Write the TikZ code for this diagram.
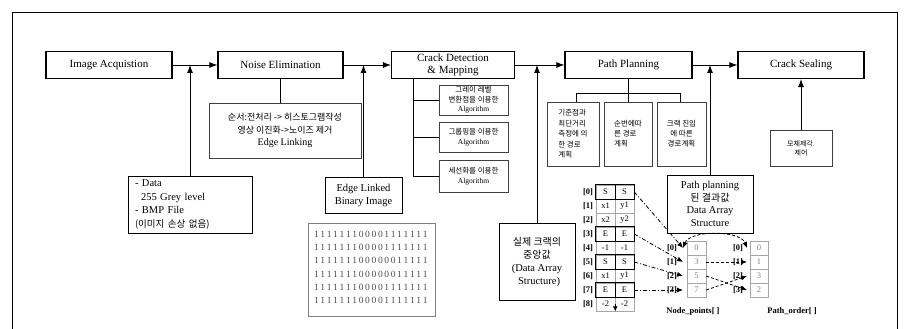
\documentclass[tikz,border=0pt]{standalone}
\usepackage{fontspec}
\setmainfont{Liberation Serif}
\newfontfamily\kr{Noto Sans CJK KR}
\usetikzlibrary{arrows.meta,calc}
\def\spacedigits#1{\spacedigitsi#1\relax}
\def\spacedigitsi#1{\ifx#1\relax\else\makebox[6.4pt]{#1}\expandafter\spacedigitsi\fi}
\begin{document}
\begin{tikzpicture}[x=1pt,y=-1pt,
  mainbox/.style={draw,line width=1.1pt,fill=white,minimum width=#1,minimum height=27,inner sep=1pt,align=center,font=\fontsize{11}{12.5}\selectfont},
  infobox/.style={draw,line width=1pt,fill=white,inner sep=1pt,align=center},
  subbox/.style={draw=black!75,line width=0.5pt,inner sep=1pt,align=center,font=\fontsize{7.5}{9.5}\selectfont},
  arr/.style={-{Latex[length=8,width=6]},line width=0.9pt},
  ln/.style={line width=0.9pt},
  cell/.style={draw=gray!70,line width=0.5pt,minimum width=19,minimum height=14,inner sep=0pt,font=\fontsize{8.5}{9}\selectfont},
  lab/.style={inner sep=0pt,font=\fontsize{8.5}{9}\selectfont\bfseries},
  dashdot/.style={dash pattern=on 4pt off 2pt on 1pt off 2pt,line width=0.8pt,-{Latex[length=6,width=5]}},
  dsh/.style={dash pattern=on 3pt off 2pt,line width=0.8pt,-{Latex[length=6,width=5]}},
  binline/.style={anchor=west,inner sep=0pt,text=black!70,font=\fontsize{9.5}{10}\selectfont}
]
\useasboundingbox (0,0) rectangle (913,329);
% outer frame
\draw[line width=0.9pt] (12,329) -- (12,12) -- (897,12) -- (897,329);

% main chain
\node[mainbox=126] (ia) at (109,65) {Image Acquistion};
\node[mainbox=125] (ne) at (280.5,65) {Noise Elimination};
\node[mainbox=123] (cd) at (453,65) {Crack Detection\\\& Mapping};
\node[mainbox=127] (pp) at (628.5,65) {Path Planning};
\node[mainbox=126] (cs) at (801,65) {Crack Sealing};
\draw[arr] (ia) -- (ne);
\draw[arr] (ne) -- (cd);
\draw[arr] (cd) -- (pp);
\draw[arr] (pp) -- (cs);

% inputs from below
\node[infobox,text width=110,inner xsep=7pt,minimum height=57,align=left,font=\fontsize{10.5}{13.5}\selectfont] (data) at (190,204.5)
  {- Data\\\hspace*{6pt}255 Grey level\\- BMP File\\{\kr\fontsize{9.5}{13.5}\selectfont (이미지 손상 없음)}};
\draw[arr] (data.north) -- (data.north |- ia.east);

\node[infobox,minimum width=77,minimum height=36,font=\fontsize{10.5}{13}\selectfont] (edge) at (363.5,195) {Edge Linked\\Binary Image};
\draw[arr] (edge.north) -- (edge.north |- ne.east);

\node[draw=black!50,line width=0.6pt,minimum width=127,minimum height=93,inner sep=0pt] (bin) at (371.5,269.5) {};
\foreach \k/\s in {0/111111100001111111,1/111111100001111111,2/111111100000011111,3/111111100000011111,4/111111100001111111,5/111111100001111111}
  \node[binline] (b\k) at (313,{234+13.3*\k}) {\expandafter\spacedigits\expandafter{\s}};

\node[infobox,minimum width=76,minimum height=77,font=\fontsize{10.5}{13}\selectfont] (real) at (537,261.5)
  {{\kr\fontsize{10}{13}\selectfont 실제 크랙의}\\{\kr\fontsize{10}{13}\selectfont 중앙값}\\(Data Array\\\hspace*{4pt}Structure)};
\draw[arr] (real.north) -- (real.north |- cd.east);

% noise sub box
\node[subbox,minimum width=152,minimum height=55,font=\fontsize{10}{12.5}\selectfont] (nsub) at (285,130.5)
  {{\kr\fontsize{9}{12.5}\selectfont 순서:전처리 -> 히스토그램작성}\\{\kr\fontsize{9}{12.5}\selectfont 영상 이진화->노이즈 제거}\\Edge Linking};
\draw[ln] (ne.south) -- (ne.south |- nsub.north);

% crack detection sub boxes
\node[subbox,minimum width=69,minimum height=30] (cs1) at (473.5,100) {{\kr 그레이 레벨}\\{\kr 변환점을 이용한}\\Algorithm};
\node[subbox,minimum width=69,minimum height=30] (cs2) at (473.5,137) {{\kr 그룹핑을 이용한}\\Algorithm};
\node[subbox,minimum width=69,minimum height=32] (cs3) at (473.5,176) {{\kr 세선화를 이용한}\\Algorithm};
\coordinate (cdt) at (413,0);
\draw[ln] (cdt |- cd.south) |- (cs3.west);
\draw[ln] (cdt |- cs1.west) -- (cs1.west);
\draw[ln] (cdt |- cs2.west) -- (cs2.west);

% path planning sub boxes
\node[subbox,minimum width=52,minimum height=64,align=left,font=\fontsize{7.5}{10.5}\selectfont] (ps1) at (573,134)
  {{\kr 기준점과}\\{\kr 최단거리}\\{\kr 측정에 의}\\{\kr 한 경로}\\{\kr 계획}};
\node[subbox,minimum width=48,minimum height=64,align=left,font=\fontsize{7.5}{10}\selectfont] (ps2) at (628,134)
  {{\kr 순번에따}\\{\kr 른 경로}\\{\kr 계획}};
\node[subbox,minimum width=49,minimum height=64,font=\fontsize{7.5}{10}\selectfont] (ps3) at (681.5,134)
  {{\kr 크랙 진입}\\{\kr 에 따른}\\{\kr 경로계획}};
\coordinate (ppa) at (576,93);
\coordinate (ppb) at (680,93);
\draw[ln] (pp.south) -- (pp.south |- ps2.north);
\draw[ln] (ppa |- ps1.north) -- (ppa) -- (ppb) -- (ppb |- ps3.north);

% crack sealing sub box
\node[subbox,minimum width=62,minimum height=36,font=\fontsize{7}{9}\selectfont] (cssub) at (801,148) {{\kr 모체제각.}\\{\kr 제어}};
\draw[arr] (cssub.north) -- (cs.south);

% crack data array
\foreach \i/\a/\b in {0/S/S,1/x1/y1,2/x2/y2,3/E/E,4/-1/-1,5/S/S,6/x1/y1,7/E/E,8/-2/-2}{
  \node[cell] (c\i a) at (605.5,{192+14*\i}) {\a};
  \node[cell] (c\i b) at (624.5,{192+14*\i}) {\b};
  \node[lab] (cl\i) at (588,{192+14*\i}) {[\i]};
}
\foreach \i in {0,3,5,7}{
  \draw[line width=1pt] (c\i a.north west) rectangle (c\i b.south east);
  \draw[line width=1pt] (c\i a.north east) -- (c\i a.south east);
}
\draw[-{Latex[length=5,width=5]},line width=0.8pt] (c8a.east) -- (c8a.south east);

% Node_points and Path_order arrays
\foreach \j/\v/\w in {0/0/0,1/3/1,2/5/3,3/7/2}{
  \node[cell,text=gray] (n\j) at (696.5,{248+14*\j}) {\v};
  \node[cell,text=gray,minimum width=18] (o\j) at (759,{248+14*\j}) {\w};
  \node[lab] (nl\j) at (672,{248+14*\j}) {[\j]};
  \node[lab] (ol\j) at (738,{248+14*\j}) {[\j]};
  \coordinate (t\j) at (683,{248+14*\j});
  \coordinate (p\j) at (747,{248+14*\j});
}
\node[lab] (npl) at (693,311) {Node\_points[ ]};
\node[lab] (pol) at (792,311) {Path\_order[ ]};

\draw[dashdot] (c0b.east) -- (t0);
\draw[dashdot] (c3b.east) -- (t1);
\draw[dashdot] (c5b.east) -- (t2);
\draw[dashdot] (c7b.east) -- (t3);

% result box
\node[infobox,minimum width=86,minimum height=58,font=\fontsize{10.5}{12.5}\selectfont] (res) at (710,204)
  {Path planning\\{\kr\fontsize{10}{12.5}\selectfont 된 결과값}\\Data Array\\Structure};
\draw[arr] (res.north) -- (res.north |- pp.east);

\draw[dsh,{Latex[length=6,width=5]}-{Latex[length=6,width=5]}] (t0) .. controls (690,230) and (740,230) .. (p0);
\draw[dsh] (n1.east) -- (p1);
\draw[dsh] (n2.east) -- (p3);
\draw[dsh] (n3.east) -- (p2);
\end{tikzpicture}
\end{document}
